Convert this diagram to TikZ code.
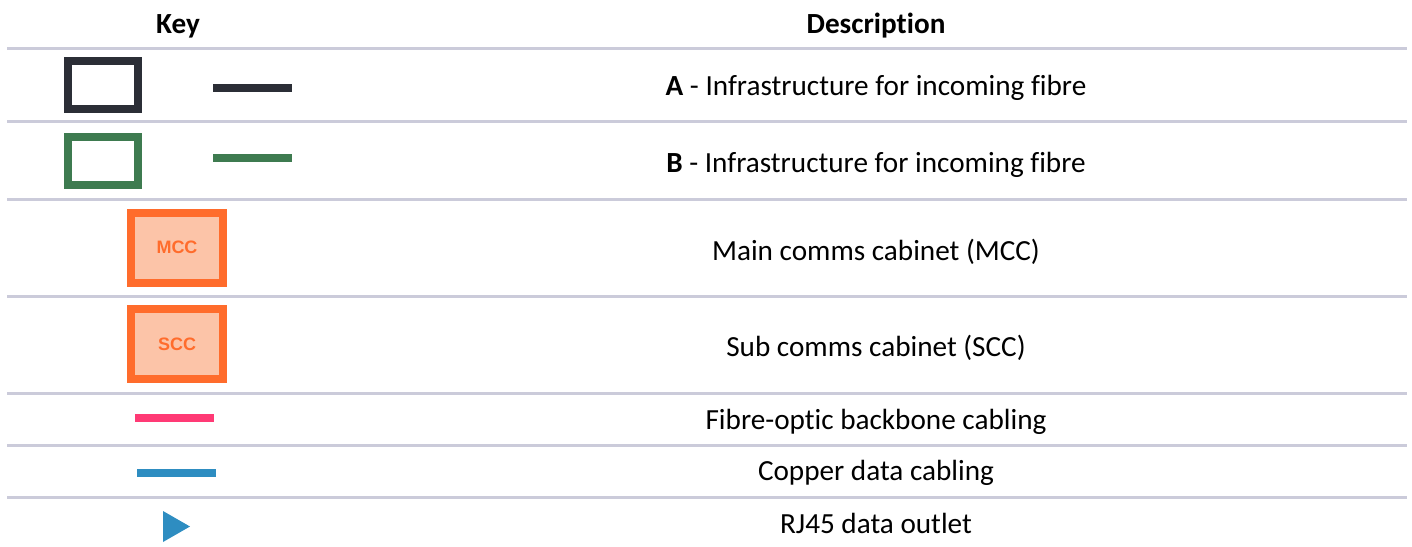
\documentclass[tikz,border=0pt]{standalone}
\usepackage{fontspec}
\setmainfont[Ligatures=CommonOff]{Carlito}
\newfontfamily\arialfont{Liberation Sans}
\definecolor{rulegray}{HTML}{CBCBDA}
\definecolor{darkinfra}{HTML}{2B2E36}
\definecolor{greeninfra}{HTML}{3E7B50}
\definecolor{cabedge}{HTML}{FF6C2C}
\definecolor{cabfill}{HTML}{FCC4A8}
\definecolor{fibrepink}{HTML}{FF3A75}
\definecolor{copperblue}{HTML}{2E8DC1}
\tikzset{
  rowrule/.style={draw=rulegray, line width=1.5pt},
  desc/.style={anchor=base, inner sep=0pt, font=\fontsize{14.6pt}{17pt}\selectfont, text=black},
  head/.style={desc, font=\fontsize{14.6pt}{17pt}\selectfont\bfseries},
  infrabox/.style={draw, fill=white, line width=4pt, minimum width=35pt, minimum height=24pt, inner sep=0pt},
  cabbox/.style={draw=cabedge, fill=cabfill, line width=4pt, minimum width=46pt, minimum height=35pt, inner sep=0pt,
     text=cabedge, font=\arialfont\fontsize{9pt}{10pt}\selectfont\bfseries},
  sample/.style={line width=4pt},
}
\begin{document}
\begin{tikzpicture}[x=0.5pt, y=-0.5pt]
\useasboundingbox (0,0) rectangle (1412,546);
% headers
\node[head] (keyhead) at (178,33) {Key};
\node[head] (deschead) at (876,33) {Description};
% rules
\foreach \yy/\nm in {48.5/r1, 121.5/r2, 199/r3, 296.5/r4, 393.5/r5, 445.5/r6, 497.5/r7}{
  \coordinate (\nm L) at (7,\yy);
  \coordinate (\nm R) at (1407,\yy);
  \draw[rowrule] (\nm L) -- (\nm R);
}
% row A
\node[infrabox, draw=darkinfra] (boxA) at (103,85) {};
\coordinate (lineAL) at (213,88);
\coordinate (lineAR) at (292,88);
\draw[sample, darkinfra] (lineAL) -- (lineAR);
\node[desc] (descA) at (876,95.5) {\textbf{A} - Infrastructure for incoming fibre};
% row B
\node[infrabox, draw=greeninfra] (boxB) at (103,160.5) {};
\coordinate (lineBL) at (213,158);
\coordinate (lineBR) at (292,158);
\draw[sample, greeninfra] (lineBL) -- (lineBR);
\node[desc] (descB) at (876,172) {\textbf{B} - Infrastructure for incoming fibre};
% MCC
\node[cabbox] (mcc) at (177,247.7) {MCC};
\node[desc] (descM) at (876,260.5) {Main comms cabinet (MCC)};
% SCC
\node[cabbox] (scc) at (177,344.2) {SCC};
\node[desc] (descS) at (876,356) {Sub comms cabinet (SCC)};
% fibre
\coordinate (fibL) at (135,417.5);
\coordinate (fibR) at (213.7,417.5);
\draw[sample, fibrepink] (fibL) -- (fibR);
\node[desc] (descF) at (876,429) {Fibre-optic backbone cabling};
% copper
\coordinate (copL) at (137,473);
\coordinate (copR) at (216,473);
\draw[sample, copperblue] (copL) -- (copR);
\node[desc] (descC) at (876,480.5) {Copper data cabling};
% RJ45
\coordinate (triA) at (163,511);
\coordinate (triB) at (190,526.5);
\coordinate (triC) at (163,542);
\fill[copperblue] (triA) -- (triB) -- (triC) -- cycle;
\node[desc] (descR) at (876,533) {RJ45 data outlet};
\end{tikzpicture}
\end{document}
